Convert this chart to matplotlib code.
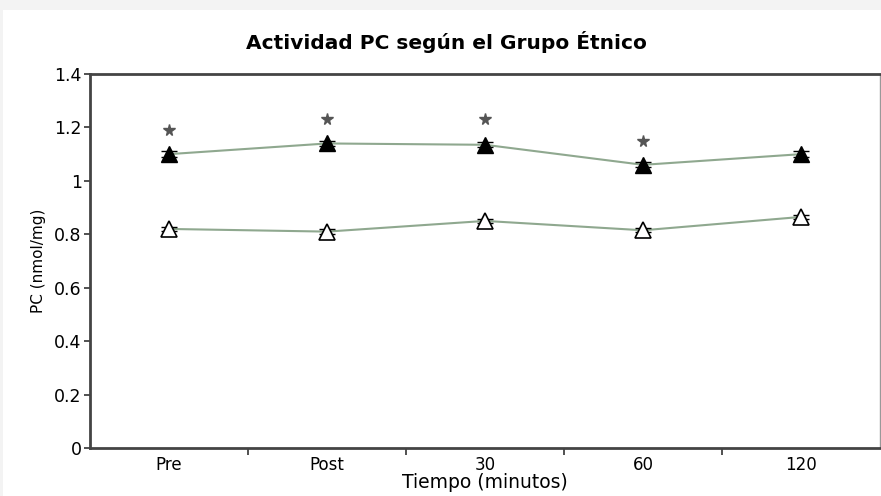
import matplotlib
matplotlib.use('Agg')
import matplotlib.pyplot as plt
from matplotlib.patches import Rectangle

categories = ['Pre', 'Post', '30', '60', '120']
grupo_a = [1.10, 1.14, 1.135, 1.06, 1.10]     # filled triangles
grupo_a_err = [0.01, 0.01, 0.01, 0.01, 0.01]
grupo_b = [0.82, 0.81, 0.85, 0.815, 0.865]    # open triangles
grupo_b_err = [0.008, 0.008, 0.008, 0.008, 0.008]
star_y = [1.19, 1.23, 1.23, 1.15, None]

fig = plt.figure(figsize=(8.81, 4.96), dpi=100)
fig.patch.set_facecolor('#f3f3f3')
fig.patches.append(Rectangle((3 / 881, 0), 1, 486 / 496, transform=fig.transFigure,
                             facecolor='white', edgecolor='none', zorder=-1))

ax = fig.add_axes([90 / 881, 1 - 448 / 496, 1 - 90 / 881 - 0.001, 374 / 496])
ax.set_facecolor('white')
x = list(range(len(categories)))

line_c = '#8fa88f'
ax.plot(x, grupo_a, color=line_c, lw=1.5, zorder=2)
ax.plot(x, grupo_b, color=line_c, lw=1.5, zorder=2)
ax.errorbar(x, grupo_a, yerr=grupo_a_err, fmt='none', ecolor='black', capsize=6,
            elinewidth=1, zorder=3)
ax.errorbar(x, grupo_b, yerr=grupo_b_err, fmt='none', ecolor='black', capsize=6,
            elinewidth=1, zorder=3)
ax.plot(x, grupo_a, linestyle='none', marker='^', markersize=11,
        markerfacecolor='black', markeredgecolor='black', zorder=4)
ax.plot(x, grupo_b, linestyle='none', marker='^', markersize=11,
        markerfacecolor='white', markeredgecolor='black', markeredgewidth=1.2, zorder=4)

sx = [xi for xi, sy in zip(x, star_y) if sy is not None]
sy = [s for s in star_y if s is not None]
ax.plot(sx, sy, linestyle='none', marker='*', markersize=8.5,
        color='#555555', zorder=4)

ax.set_xlim(-0.5, 4.5)
ax.set_ylim(0, 1.4)
ax.set_yticks([0, 0.2, 0.4, 0.6, 0.8, 1, 1.2, 1.4])
ax.set_yticklabels(['0', '0.2', '0.4', '0.6', '0.8', '1', '1.2', '1.4'])
ax.set_xticks(x)
ax.set_xticklabels(categories)
ax.set_xticks([0.5, 1.5, 2.5, 3.5], minor=True)
ax.tick_params(axis='x', which='major', length=0, pad=6, labelsize=12)
ax.tick_params(axis='x', which='minor', length=5, width=1.2, color='#333333', direction='out')
ax.tick_params(axis='y', length=4, width=1.2, color='#333333', labelsize=12.5, pad=2)

for side in ['left', 'bottom', 'top']:
    ax.spines[side].set_linewidth(2)
    ax.spines[side].set_color('#444444')
ax.spines['right'].set_color('#999999')
ax.spines['right'].set_linewidth(1)

ax.set_xlabel('Tiempo (minutos)', fontsize=13.5, labelpad=-1)
ax.set_ylabel('PC (nmol/mg)', fontsize=11, labelpad=6)
fig.text(446 / 881, 1 - 42 / 496, 'Actividad PC según el Grupo Étnico',
         ha='center', va='center', fontsize=14.5, fontweight='bold')

fig.savefig('out.png', dpi=100, facecolor=fig.get_facecolor())
